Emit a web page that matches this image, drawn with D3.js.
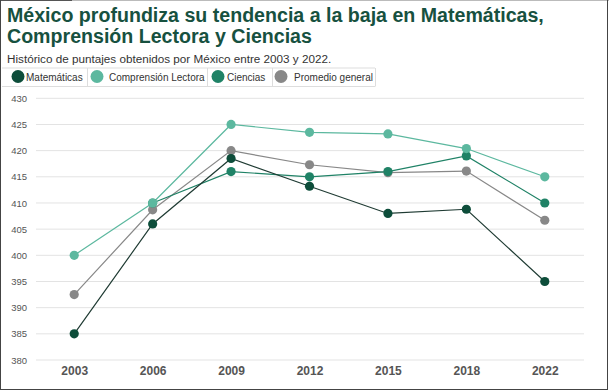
<!DOCTYPE html>
<html><head><meta charset="utf-8">
<script src="https://cdn.jsdelivr.net/npm/d3@7"></script>
<style>body{margin:0;background:#fff;}svg{display:block;font-family:"Liberation Sans",Arial,sans-serif;}</style>
</head><body><div id="chart"></div>
<script>
const years = ["2003","2006","2009","2012","2015","2018","2022"];
const matematicas = [385, 406, 418.5, 413.2, 408, 408.8, 395];
const lectora = [400, 410, 425, 423.5, 423.2, 420.4, 415];
const ciencias = [null, 410, 416, 415, 416, 419, 410];
const promedio = [392.5, 408.7, 420, 417.3, 415.8, 416.1, 406.7];
const seriesNames = ["Matemáticas","Comprensión Lectora","Ciencias","Promedio general"];
const seriesColors = ["#0d4d3a","#5cb89f","#1f8266","#888888"];
const lineColors = ["#1f3b33","#5cb89f","#1f8266","#888888"];
const yTicks = [380,385,390,395,400,405,410,415,420,425,430];

const W=609,H=391;
const svg=d3.select("#chart").append("svg").attr("width",W).attr("height",H);
svg.append("rect").attr("x",0).attr("y",0).attr("width",W).attr("height",H).attr("fill","#fff");

// title
const t=svg.append("text").attr("fill","#17513f").attr("font-weight","bold").attr("font-size",19.6);
t.append("tspan").attr("x",7).attr("y",22).text("México profundiza su tendencia a la baja en Matemáticas,");
t.append("tspan").attr("x",7).attr("y",43).text("Comprensión Lectora y Ciencias");
svg.append("text").attr("x",7).attr("y",63).attr("fill","#333").attr("font-size",11.7)
  .text("Histórico de puntajes obtenidos por México entre 2003 y 2022.");

// legend
const legX=[2,87,207,272,375];
const lg=svg.append("g");
lg.append("line").attr("x1",2).attr("x2",375).attr("y1",68).attr("y2",68).attr("stroke","#ddd");
lg.append("line").attr("x1",2).attr("x2",375).attr("y1",86.5).attr("y2",86.5).attr("stroke","#ddd");
legX.slice(1).forEach(x=>lg.append("line").attr("x1",x+0.5).attr("x2",x+0.5).attr("y1",68).attr("y2",86.5).attr("stroke","#ddd"));
const legCirc=[18,97,218,281];
const legText=[26,109,227,294];
seriesNames.forEach((n,i)=>{
  lg.append("circle").attr("cx",legCirc[i]).attr("cy",76.5).attr("r",6.5).attr("fill",seriesColors[i]);
  lg.append("text").attr("x",legText[i]).attr("y",80.5).attr("font-size",10).attr("fill","#333").text(n);
});

// scales
const x=d3.scalePoint().domain(years).range([35,584]).padding(0.5);
const y=d3.scaleLinear().domain([380,430]).range([360,98.3]);

const grid=svg.append("g");
yTicks.forEach(v=>{
  grid.append("line").attr("x1",36).attr("x2",584).attr("y1",y(v)).attr("y2",y(v)).attr("stroke","#e3e3e3").attr("stroke-width",1);
});
const ya=svg.append("g").attr("transform","translate(27,0)")
  .call(d3.axisLeft(y).tickValues(yTicks).tickSize(0).tickPadding(0));
ya.select(".domain").remove();
ya.selectAll("text").attr("font-size",9.5).attr("fill","#555").attr("font-family","Liberation Sans, Arial, sans-serif");

const xa=svg.append("g").attr("transform","translate(0,366)")
  .call(d3.axisBottom(x).tickSize(0).tickPadding(0));
xa.select(".domain").remove();
xa.selectAll("text").attr("font-size",12).attr("font-weight","bold").attr("fill","#555").attr("font-family","Liberation Sans, Arial, sans-serif");

const data=[matematicas,lectora,ciencias,promedio];
const order=[3,2,1,0];
const line=d3.line().defined(d=>d.v!=null).x(d=>x(d.yr)).y(d=>y(d.v));
order.forEach(i=>{
  const pts=years.map((yr,j)=>({yr,v:data[i][j]}));
  svg.append("path").datum(pts).attr("d",line).attr("fill","none").attr("stroke",lineColors[i]).attr("stroke-width",1.2);
});
order.forEach(i=>{
  const pts=years.map((yr,j)=>({yr,v:data[i][j]})).filter(d=>d.v!=null);
  svg.append("g").selectAll("circle").data(pts).join("circle")
    .attr("cx",d=>x(d.yr)).attr("cy",d=>y(d.v)).attr("r",4.6).attr("fill",seriesColors[i]);
});

// frame
svg.append("line").attr("x1",0).attr("x2",W).attr("y1",0.5).attr("y2",0.5).attr("stroke","#bbb");
svg.append("line").attr("x1",0).attr("x2",72).attr("y1",0.5).attr("y2",0.5).attr("stroke","#555");
svg.append("line").attr("x1",0.5).attr("x2",0.5).attr("y1",0).attr("y2",390).attr("stroke","#444");
svg.append("line").attr("x1",607.5).attr("x2",607.5).attr("y1",0).attr("y2",390).attr("stroke","#444");
svg.append("line").attr("x1",0).attr("x2",608).attr("y1",389.5).attr("y2",389.5).attr("stroke","#444");
</script></body></html>
